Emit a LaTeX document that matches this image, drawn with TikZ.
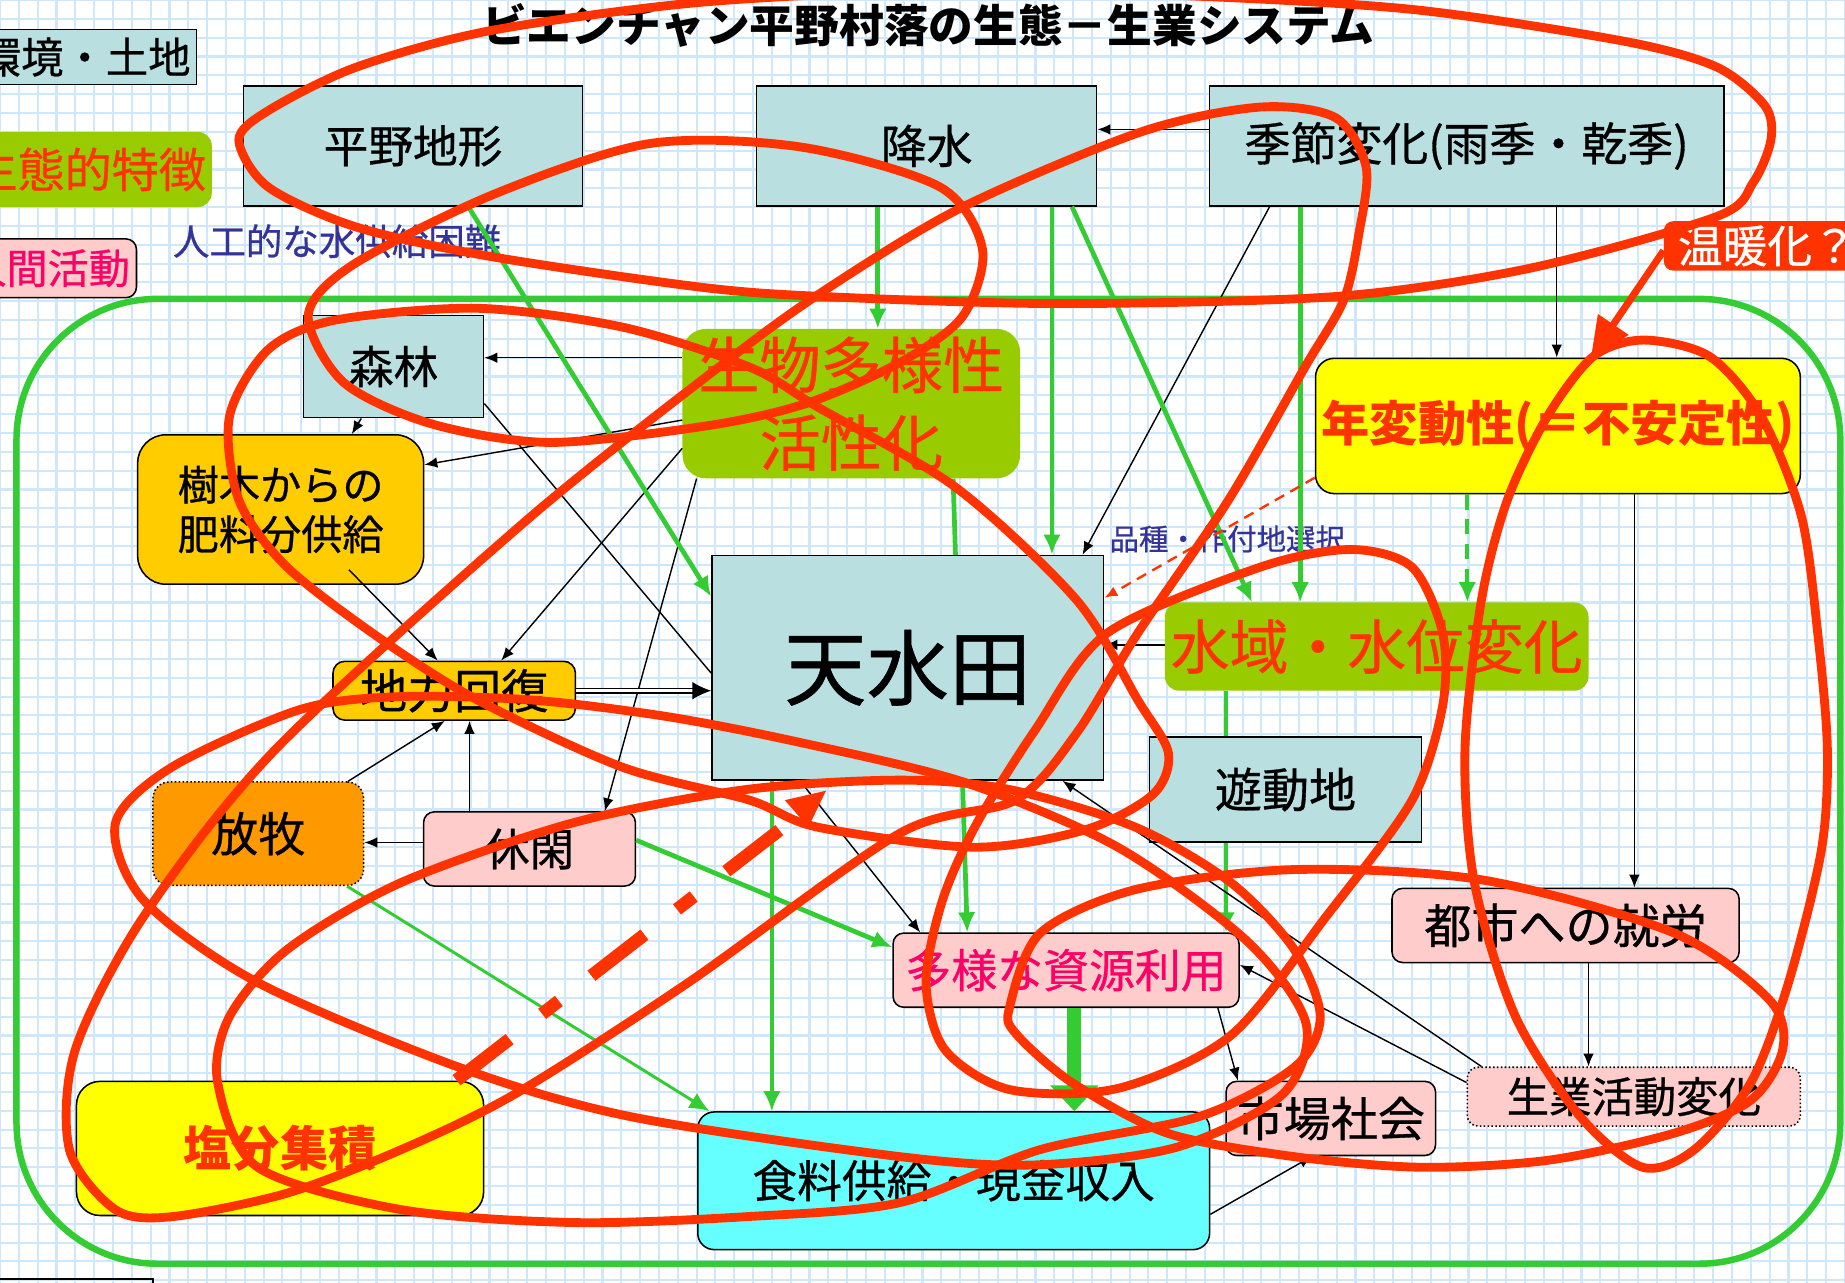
\documentclass[tikz,border=0pt]{standalone}
\usepackage{fontspec}
\setmainfont{Noto Sans CJK JP}[UprightFeatures={FakeBold=0.7}]
\usetikzlibrary{arrows.meta}

\definecolor{envblue}{HTML}{B9DFE1}
\definecolor{ecogreen}{HTML}{99CC00}
\definecolor{ecored}{HTML}{FF3300}
\definecolor{humpink}{HTML}{FFCCCC}
\definecolor{humtext}{HTML}{FF0066}
\definecolor{soilyel}{HTML}{FFCC00}
\definecolor{grazeorange}{HTML}{FF9900}
\definecolor{brightyel}{HTML}{FFFF00}
\definecolor{foodcyan}{HTML}{66FFFF}
\definecolor{flowgreen}{HTML}{33CC33}
\definecolor{noteblue}{HTML}{333399}
\definecolor{gridblue}{HTML}{CFE7FA}

\newcommand{\jfs}[1]{\fontsize{#1}{#1}\selectfont}
\newcommand{\jfsl}[2]{\fontsize{#1}{#2}\selectfont}

\pgfdeclarelayer{back}
\pgfsetlayers{back,main}

\tikzset{
  envbox/.style={draw, line width=1.3pt, fill=envblue, inner sep=0pt, align=center},
  ecobox/.style={fill=ecogreen, rounded corners=20pt, inner sep=0pt, align=center, text=ecored},
  humbox/.style={draw, line width=1.3pt, fill=humpink, rounded corners=9pt, inner sep=0pt, align=center},
  soilbox/.style={draw, line width=1.3pt, fill=soilyel, rounded corners=#1, inner sep=0pt, align=center},
  soilbox/.default=12pt,
  notetext/.style={text=noteblue, inner sep=0pt},
  headline/.style={inner sep=0pt, font=\bfseries\jfs{38}},
  blk/.style={line width=1.2pt, -{Latex[length=11pt,width=9pt]}},
  grn/.style={flowgreen, line width=4pt, -{Latex[length=17pt,width=15pt]}},
  scribble/.style={ecored, line width=7.5pt, line cap=round, line join=round},
}

\begin{document}
\begin{tikzpicture}[x=1pt, y=-1pt]
\useasboundingbox (0,0) rectangle (1568,1090);

% title and legend
\node[headline] (title) at (789,22) {ビエンチャン平野村落の生態－生業システム};
\node[envbox, minimum width=190pt, minimum height=47pt, font=\jfs{36}] (legenv) at (72,48.5) {環境・土地};
\node[ecobox, rounded corners=12pt, minimum width=210pt, minimum height=64pt, font=\jfs{40}] (legeco) at (75,144) {生態的特徴};
\node[humbox, minimum width=151pt, minimum height=50pt, font=\jfs{35}, text=humtext] (leghum) at (40.5,228) {人間活動};
\node[draw, line width=1.5pt, minimum width=140pt, minimum height=40pt] (legbot) at (60,1107) {};

% top row
\node[envbox, minimum width=288pt, minimum height=102pt, font=\jfs{38}] (plain) at (351,124) {平野地形};
\node[envbox, minimum width=289pt, minimum height=102pt, font=\jfs{39}] (rain) at (787.5,124) {降水};
\node[envbox, minimum width=437pt, minimum height=102pt, font=\jfs{39}] (season) at (1246.5,124) {季節変化(雨季・乾季)};
\node[notetext, font=\jfs{31}] (nowater) at (286.5,205) {人工的な水供給困難};

% inner system
\node[envbox, minimum width=153pt, minimum height=87pt, font=\jfs{38}] (forest) at (334.5,311.5) {森林};
\node[ecobox, minimum width=287pt, minimum height=127pt, font=\jfsl{52}{66}] (biodiv) at (723.5,343) {生物多様性\\活性化};
\node[soilbox=24pt, minimum width=243pt, minimum height=127pt, font=\jfsl{35}{42}] (treefert) at (238.5,433) {樹木からの\\肥料分供給};
\node[soilbox=10pt, minimum width=206pt, minimum height=50pt, font=\jfs{40}] (soilrec) at (386,587) {地力回復};
\node[envbox, minimum width=333pt, minimum height=191pt, font=\jfs{70}] (paddy) at (771.5,567.5) {天水田};
\node[notetext, font=\jfs{25}] (choice) at (1043,458) {品種・作付地選択};
\node[draw, line width=1.3pt, fill=brightyel, rounded corners=16pt, minimum width=412pt, minimum height=115pt, inner sep=0pt, text=ecored, font=\bfseries\jfs{41}] (annual) at (1324,362) {年変動性(＝不安定性)};
\node[fill=ecored, rounded corners=8pt, minimum width=176pt, minimum height=42pt, inner sep=0pt, text=white, font=\jfs{38}] (warming) at (1502,209) {温暖化？};
\node[ecobox, rounded corners=12pt, minimum width=360pt, minimum height=75pt, font=\jfs{50}] (waterlv) at (1170,549.5) {水域・水位変化};
\node[envbox, minimum width=231pt, minimum height=89pt, font=\jfs{40}] (shifting) at (1092.5,671) {遊動地};
\node[humbox, minimum width=295pt, minimum height=63pt, font=\jfs{40}] (urbanjob) at (1330.5,786.5) {都市への就労};
\node[humbox, dotted, minimum width=283pt, minimum height=50pt, font=\jfs{36}] (livechg) at (1388.5,932) {生業活動変化};
\node[humbox, minimum width=178pt, minimum height=63pt, font=\jfs{40}] (market) at (1131,950.5) {市場社会};
\node[humbox, minimum width=294pt, minimum height=63pt, font=\jfs{39}, text=humtext] (resuse) at (906,824.5) {多様な資源利用};
\node[draw, line width=1.3pt, fill=foodcyan, rounded corners=14pt, minimum width=435pt, minimum height=117pt, inner sep=0pt, font=\jfs{38}] (foodinc) at (810.5,1003.5) {食料供給・現金収入};
\node[draw, line width=1.3pt, fill=brightyel, rounded corners=20pt, minimum width=346pt, minimum height=114pt, inner sep=0pt, text=ecored, font=\bfseries\jfs{41}] (salt) at (238,976) {塩分集積};
\node[draw, dotted, line width=1.3pt, fill=grazeorange, rounded corners=14pt, minimum width=179pt, minimum height=88pt, inner sep=0pt, font=\jfs{40}] (grazing) at (219.5,708.5) {放牧};
\node[humbox, minimum width=180pt, minimum height=63pt, font=\jfs{38}] (fallow) at (450,721.5) {休閑};

\begin{pgfonlayer}{back}
\fill[white] (0,0) rectangle (1568,1090);
\draw[gridblue, line width=1.8pt, step=16pt] (0pt,-1090pt) grid (1568pt,0pt);
\draw[flowgreen, line width=5.5pt, rounded corners=120pt] (14,254) rectangle (1564,1074);
\draw[grn] ([xshift=86.5pt]biodiv.south) -- ([xshift=-84pt]resuse.north);
\draw[grn] ([xshift=-128pt]waterlv.south) -- ([xshift=136pt]resuse.north);
\end{pgfonlayer}

% black links
\draw[blk] ([yshift=14pt]season.west) -- ([yshift=14pt]rain.east);
\draw[blk] ([xshift=-167.5pt]season.south) -- ([xshift=148.5pt]paddy.north);
\draw[blk] ([xshift=76.5pt]season.south) -- ([xshift=-1pt]annual.north);
\draw[blk] ([xshift=65pt]annual.south) -- ([xshift=58.5pt]urbanjob.north);
\draw[blk] ([xshift=19.5pt]urbanjob.south) -- ([xshift=-38.5pt]livechg.north);
\draw[blk] ([yshift=39pt]biodiv.west) -- ([yshift=7.5pt]forest.east);
\draw[blk] ([yshift=-14pt]biodiv.west) -- ([yshift=38pt]treefert.east);
\draw[blk] ([xshift=-27.5pt]forest.south) -- ([xshift=60.5pt]treefert.north);
\draw[line width=1.2pt] ([yshift=-31.5pt]forest.east) -- ([yshift=-4.5pt]paddy.west);
\draw[blk] ([yshift=-38pt]biodiv.west) -- ([xshift=40pt]soilrec.north);
\draw[blk] ([xshift=58pt,yshift=13pt]treefert.south) -- ([xshift=-14pt]soilrec.north);
\draw[blk] ([xshift=-131.5pt]biodiv.south) -- ([xshift=64pt]fallow.north);
\draw[blk] ([xshift=76.5pt]grazing.north) -- ([xshift=-8pt]soilrec.south);
\draw[blk] ([xshift=-51pt]fallow.north) -- ([xshift=13pt]soilrec.south);
\draw[blk] ([yshift=5.5pt]fallow.west) -- ([yshift=-7.5pt]grazing.east);
\draw[blk] ([xshift=-91.5pt]paddy.south) -- ([xshift=-124pt]resuse.north);
\draw[blk] ([xshift=129pt]resuse.south) -- ([xshift=-79pt]market.north);
\draw[blk] ([yshift=12pt]livechg.west) -- ([yshift=4.5pt]resuse.east);
\draw[blk] ([xshift=-129.5pt]livechg.north) -- ([xshift=131.5pt]paddy.south);
\draw[blk] ([yshift=-28.5pt]foodinc.east) -- ([xshift=-16pt]market.south);
\draw[blk] ([yshift=1.5pt]waterlv.west) -- ([yshift=19.5pt]paddy.east);
\draw[line width=1.2pt, double distance=3pt, shorten >=14pt] (soilrec.east) -- ([yshift=-19.5pt]paddy.west);
\draw[line width=1pt, -{Latex[length=16pt,width=15pt]}] ([xshift=-15pt,yshift=-19.5pt]paddy.west) -- ([yshift=-19.5pt]paddy.west);

% green flows
\draw[grn] ([xshift=47pt]plain.south) -- ([yshift=60.5pt]paddy.west);
\draw[grn] ([xshift=-41.5pt]rain.south) -- ([xshift=22.5pt]biodiv.north);
\draw[grn] ([xshift=106.5pt]rain.south) -- ([xshift=122.5pt]paddy.north);
\draw[grn] ([xshift=123.5pt]rain.south) -- ([xshift=-106pt]waterlv.north);
\draw[grn] ([xshift=-141.5pt]season.south) -- ([xshift=-65pt]waterlv.north);
\draw[grn, line width=3.5pt, dash pattern=on 13pt off 8pt] ([xshift=-77pt]annual.south) -- ([xshift=77pt]waterlv.north);
\draw[grn, line width=3pt] ([xshift=-115.5pt]paddy.south) -- ([xshift=-154.5pt]foodinc.north);
\draw[grn] ([yshift=7.5pt]fallow.east) -- ([yshift=19.5pt]resuse.west);
\draw[grn, line width=2.5pt] ([xshift=75.5pt]grazing.south) -- ([xshift=-207.5pt]foodinc.north);
\draw[flowgreen, line width=12pt, -{Triangle[length=22pt,width=40pt]}] ([xshift=7pt]resuse.south) -- ([xshift=102.5pt]foodinc.north);

% red links
\draw[ecored, line width=2pt, dash pattern=on 9pt off 6pt, -{Latex[length=11pt,width=9pt]}] ([yshift=-44pt]annual.west) -- ([yshift=59.5pt]paddy.east);
\draw[ecored, line width=6pt, -{Triangle[length=34pt,width=30pt]}] ([yshift=-4pt]warming.west) -- ([xshift=28pt]annual.north);
\coordinate (ddstart) at (388,918);
\coordinate (ddend) at (663,705);
\draw[ecored, line width=11pt, dash pattern=on 57pt off 35pt on 18pt off 35pt] (ddstart) -- (ddend);
\fill[ecored] (667,680) -- (702,672) -- (687,703) -- cycle;

% hand-drawn marks
\draw[scribble] plot[smooth cycle] coordinates {(203,119) (228,94) (303,57) (417,26) (595,2) (800,-8) (1000,-4) (1200,8) (1380,35) (1459,57) (1500,90) (1505,119) (1490,155) (1459,184) (1300,228) (1135,252) (900,258) (700,252) (595,244) (417,218) (303,193) (228,159)};
\draw[scribble] plot[smooth cycle] coordinates {(262,268) (300,225) (420,165) (552,122) (681,125) (799,159) (835,212) (818,269) (765,308) (685,343) (600,362) (467,376) (366,360) (292,325)};
\draw[scribble] plot[smooth cycle] coordinates {(195,354) (228,297) (285,272) (406,262) (529,278) (637,312) (695,346) (812,414) (915,510) (967,595) (993,640) (980,675) (923,705) (828,720) (695,703) (637,680) (529,652) (406,595) (325,544) (244,482) (203,425)};
\draw[scribble] plot[smooth cycle] coordinates {(1071,91) (1135,100) (1161,142) (1155,198) (1142,255) (1109,312) (1044,425) (967,538) (915,623) (863,680) (765,708) (585,835) (439,929) (341,977) (244,1014) (146,1034) (98,1028) (59,977) (64,892) (122,779) (234,637) (450,440) (620,305) (705,244) (818,176) (970,112)};
\draw[scribble] plot[smooth cycle] coordinates {(1148,467) (1200,482) (1226,538) (1226,600) (1200,680) (1127,779) (1046,880) (950,925) (858,926) (803,892) (787,835) (801,765) (830,700) (880,620) (941,538) (1071,482)};
\draw[scribble] plot[smooth cycle] coordinates {(98,700) (146,652) (255,603) (340,592) (453,595) (567,609) (680,631) (820,665) (950,720) (1060,800) (1110,870) (1090,930) (1000,975) (880,990) (765,983) (536,949) (390,907) (219,835) (122,765)};
\draw[scribble] plot[smooth cycle] coordinates {(185,920) (195,864) (244,807) (341,750) (488,699) (634,671) (765,663) (858,671) (965,703) (1046,750) (1100,807) (1122,864) (1100,907) (1019,949) (884,977) (765,1022) (634,1034) (488,1039) (341,1028) (219,992)};
\draw[scribble] plot[smooth cycle] coordinates {(1354,303) (1397,289) (1453,303) (1497,354) (1531,439) (1545,540) (1553,637) (1548,722) (1520,835) (1488,920) (1440,977) (1396,992) (1343,949) (1288,864) (1253,750) (1245,637) (1259,510) (1281,425) (1315,354)};
\draw[scribble] plot[smooth cycle] coordinates {(858,856) (884,793) (965,756) (1100,739) (1261,748) (1423,793) (1504,850) (1515,892) (1488,935) (1423,963) (1316,986) (1208,992) (1100,983) (992,963) (911,920) (863,878)};
\end{tikzpicture}
\end{document}
